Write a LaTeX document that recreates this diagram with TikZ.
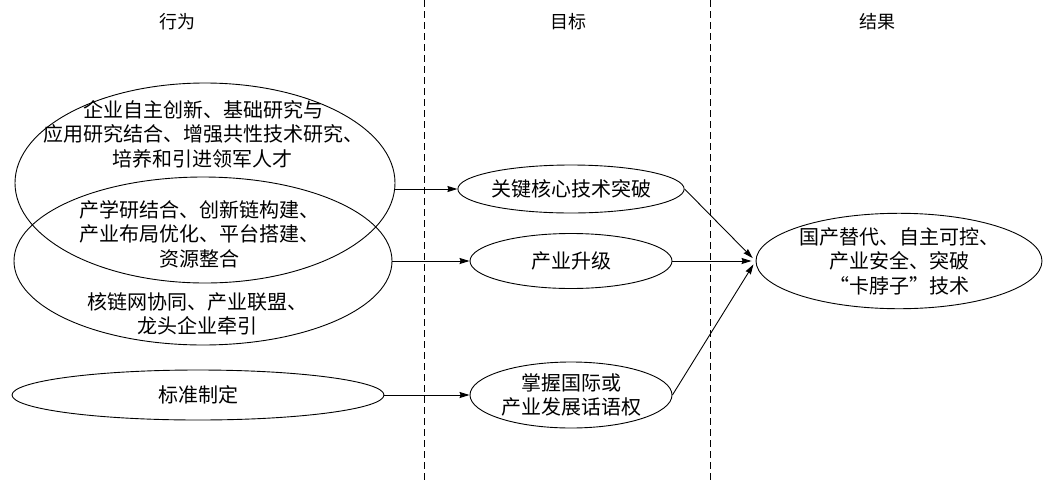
\documentclass[tikz,border=0pt]{standalone}
\usepackage{fontspec}
\newfontfamily\cjk{Noto Sans CJK SC}
\usetikzlibrary{shapes.geometric,arrows.meta}

\tikzset{
    oval/.style={draw,ellipse,inner sep=0pt,line width=0.9pt},
    txt/.style={align=center,inner sep=0pt,font=\cjk\fontsize{20}{24.5}\selectfont},
    head/.style={inner sep=0pt,font=\cjk\fontsize{18}{22}\selectfont},
    arr/.style={line width=0.9pt,-{Stealth[length=10pt,width=6pt,inset=1pt]}},
    lane/.style={line width=0.9pt,dash pattern=on 7pt off 4pt}
}

\begin{document}
\begin{tikzpicture}[x=1pt,y=-1pt]
    \useasboundingbox (0,0) rectangle (1047,483);
    % column heads and dashed separators
    \foreach \x/\name/\htext in {177/hA/行为,568/hB/目标,877/hC/结果}
        \node[head] (\name) at (\x,22) {\htext};
    \draw[lane] (424,0) -- (424,483);
    \draw[lane] (710,0) -- (710,483);

    % actions
    \node[oval,minimum width=380pt,minimum height=200pt] (actA) at (205,183) {};
    \node[oval,minimum width=378pt,minimum height=168pt] (actB) at (203,261) {};
    \node[oval,minimum width=372pt,minimum height=50pt] (actC) at (198,395) {};
    \node[txt] (tA) at (203,134) {企业自主创新、基础研究与\\应用研究结合、增强共性技术研究、\\培养和引进领军人才};
    \node[txt] (tB) at (199,234) {产学研结合、创新链构建、\\产业布局优化、平台搭建、\\资源整合};
    \node[txt] (tC) at (197,314) {核链网协同、产业联盟、\\龙头企业牵引};
    \node[txt] (tD) at (198,395) {标准制定};

    % goals
    \node[oval,txt,minimum width=202pt,minimum height=48pt] (goalA) at (571,189) {关键核心技术突破};
    \node[oval,txt,minimum width=202pt,minimum height=55pt] (goalB) at (571,261) {产业升级};
    \node[oval,txt,minimum width=202pt,minimum height=66pt] (goalC) at (571,395) {掌握国际或\\产业发展话语权};

    % result
    \node[oval,txt,minimum width=286pt,minimum height=92pt] (res) at (899,261) {国产替代、自主可控、\\产业安全、突破\\“卡脖子”技术};

    \draw[arr] (actA.east |- goalA.west) -- (goalA.west);
    \draw[arr] (actB.east |- goalB.west) -- (goalB.west);
    \draw[arr] (actC.east) -- (goalC.west);
    \draw[arr,shorten >=4pt] (goalA.east) -- (res.west);
    \draw[arr,shorten >=4pt] (goalB.east) -- (res.west);
    \draw[arr,shorten >=4pt] (goalC.east) -- (res.west);
\end{tikzpicture}
\end{document}
